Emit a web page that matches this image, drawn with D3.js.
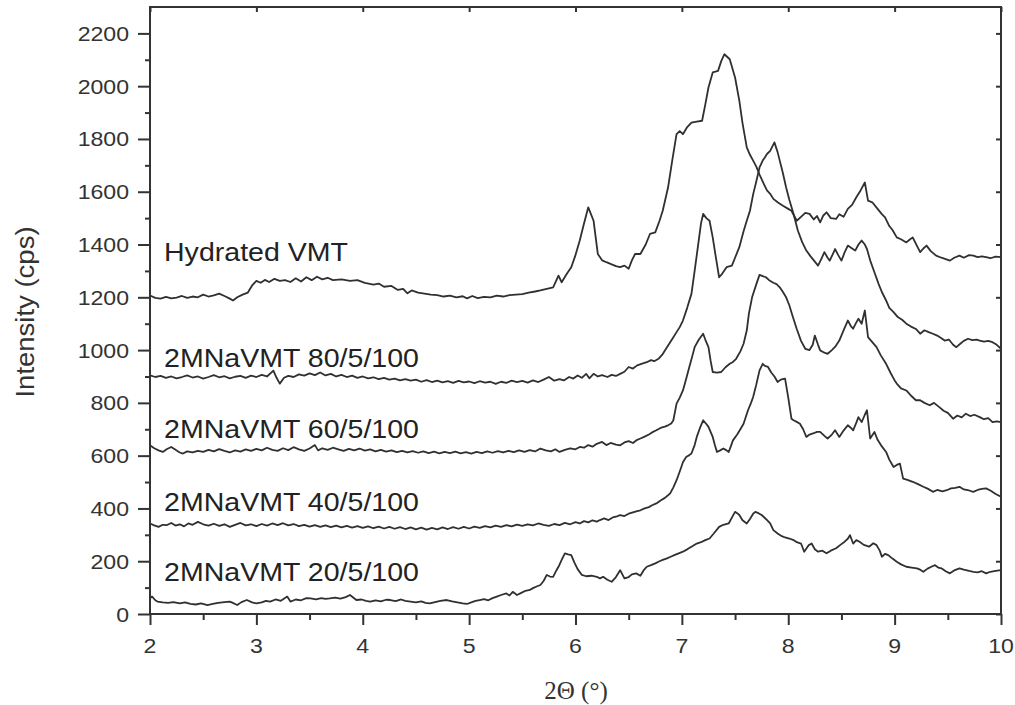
<!DOCTYPE html>
<html><head><meta charset="utf-8">
<script src="https://cdn.jsdelivr.net/npm/d3@7"></script>
<style>body{margin:0;background:#fff;}svg{display:block;}</style>
</head><body>
<svg id="chart" width="1015" height="705"></svg>
<script>
// ---------------- DATA ----------------
const seriesLabels = ["Hydrated VMT", "2MNaVMT 80/5/100", "2MNaVMT 60/5/100", "2MNaVMT 40/5/100", "2MNaVMT 20/5/100"];
const xTickValues = [2, 3, 4, 5, 6, 7, 8, 9, 10];
const yTickValues = [0, 200, 400, 600, 800, 1000, 1200, 1400, 1600, 1800, 2000, 2200];
const xAxisTitle = "2\u0398 (\u00B0)";
const yAxisTitle = "Intensity (cps)";

const hydratedVMT = [
[2.00,1207],[2.05,1198],[2.10,1195],[2.15,1202],[2.20,1196],[2.25,1199],[2.30,1205],[2.35,1198],[2.40,1203],[2.45,1200],
[2.50,1210],[2.55,1203],[2.60,1207],[2.65,1214],[2.70,1205],[2.75,1195],[2.78,1188],[2.82,1200],[2.87,1210],[2.92,1218],
[2.96,1245],[3.00,1262],[3.04,1255],[3.08,1266],[3.12,1258],[3.17,1270],[3.22,1262],[3.27,1265],[3.32,1258],[3.37,1272],
[3.42,1260],[3.47,1276],[3.52,1265],[3.57,1278],[3.62,1268],[3.67,1274],[3.72,1265],[3.80,1268],[3.88,1262],[3.95,1265],
[4.02,1255],[4.10,1248],[4.15,1252],[4.20,1240],[4.27,1243],[4.33,1228],[4.38,1232],[4.42,1215],[4.46,1226],[4.52,1218],
[4.58,1214],[4.64,1210],[4.70,1208],[4.76,1203],[4.82,1206],[4.88,1200],[4.94,1204],[4.98,1196],[5.03,1205],[5.08,1197],
[5.14,1202],[5.20,1200],[5.26,1206],[5.32,1203],[5.38,1208],[5.44,1210],[5.50,1212],[5.56,1218],[5.62,1222],
[5.67,1226],[5.73,1232],[5.79,1238],[5.84,1282],[5.87,1257],[5.92,1290],[5.96,1314],[6.00,1360],[6.04,1415],[6.08,1480],
[6.12,1541],[6.17,1490],[6.21,1364],[6.25,1340],[6.29,1333],[6.34,1325],[6.38,1318],[6.42,1314],[6.46,1320],[6.50,1308],
[6.53,1340],[6.56,1364],[6.61,1364],[6.66,1400],[6.70,1440],[6.75,1446],[6.79,1490],[6.82,1528],[6.87,1616],[6.91,1720],
[6.95,1818],[6.98,1830],[7.01,1818],[7.05,1845],[7.09,1862],[7.14,1866],[7.19,1869],[7.22,1930],[7.25,1995],[7.29,2052],
[7.34,2058],[7.37,2095],[7.40,2121],[7.45,2102],[7.50,2033],[7.54,1945],[7.57,1860],[7.61,1768],[7.64,1740],[7.67,1718],
[7.70,1695],[7.73,1665],[7.77,1630],[7.80,1605],[7.83,1592],[7.86,1573],[7.90,1560],[7.95,1547],[8.00,1535],[8.03,1528],
[8.08,1490],[8.12,1505],[8.16,1520],[8.20,1516],[8.24,1495],[8.27,1508],[8.30,1484],[8.33,1510],[8.36,1522],[8.40,1500],
[8.45,1497],[8.48,1515],[8.52,1505],[8.56,1535],[8.60,1550],[8.64,1579],[8.68,1605],[8.72,1635],[8.75,1566],[8.79,1560],
[8.84,1535],[8.88,1515],[8.91,1503],[8.95,1470],[8.98,1455],[9.02,1427],[9.06,1420],[9.11,1408],[9.14,1418],[9.17,1427],
[9.21,1395],[9.24,1371],[9.27,1385],[9.30,1396],[9.34,1375],[9.39,1358],[9.44,1350],[9.48,1345],[9.52,1339],[9.56,1350],
[9.61,1358],[9.65,1350],[9.70,1360],[9.74,1358],[9.78,1352],[9.82,1355],[9.86,1352],[9.90,1348],[9.95,1354],[10.00,1352]
];

const naVMT80 = [
[2.00,904],[2.05,898],[2.10,902],[2.15,895],[2.20,900],[2.25,893],[2.30,898],[2.35,904],[2.40,896],[2.45,900],
[2.50,892],[2.55,898],[2.60,905],[2.65,897],[2.70,901],[2.75,893],[2.80,899],[2.85,902],[2.90,895],[2.95,903],
[3.00,898],[3.05,906],[3.10,900],[3.16,922],[3.19,895],[3.22,873],[3.26,895],[3.30,902],[3.35,898],[3.40,908],
[3.45,903],[3.50,912],[3.55,905],[3.60,915],[3.65,904],[3.70,910],[3.75,900],[3.80,906],[3.85,898],[3.90,903],
[3.95,895],[4.00,900],[4.05,893],[4.10,897],[4.15,890],[4.20,895],[4.25,888],[4.30,892],[4.35,885],[4.40,890],
[4.45,884],[4.50,888],[4.55,880],[4.60,886],[4.65,879],[4.70,884],[4.75,878],[4.80,882],[4.85,876],[4.90,883],
[4.95,878],[5.00,881],[5.05,875],[5.10,882],[5.15,877],[5.20,880],[5.25,872],[5.30,880],[5.35,876],[5.40,884],
[5.45,879],[5.50,883],[5.55,877],[5.60,885],[5.65,879],[5.70,888],[5.75,898],[5.80,884],[5.85,890],[5.89,885],
[5.94,898],[5.98,892],[6.02,904],[6.06,895],[6.10,910],[6.13,893],[6.17,910],[6.21,900],[6.25,905],[6.30,898],
[6.34,906],[6.38,902],[6.42,910],[6.46,918],[6.50,936],[6.54,930],[6.58,942],[6.62,948],[6.67,954],[6.71,962],
[6.74,958],[6.78,967],[6.82,985],[6.86,1011],[6.89,1030],[6.92,1049],[6.95,1068],[6.98,1087],[7.01,1112],[7.05,1160],
[7.09,1213],[7.12,1300],[7.15,1390],[7.18,1480],[7.20,1516],[7.23,1500],[7.26,1490],[7.29,1427],[7.32,1350],[7.35,1276],
[7.38,1290],[7.42,1314],[7.47,1320],[7.50,1350],[7.54,1390],[7.58,1450],[7.61,1490],[7.64,1528],[7.67,1590],[7.70,1640],
[7.73,1692],[7.76,1718],[7.78,1730],[7.80,1743],[7.83,1755],[7.87,1787],[7.90,1750],[7.92,1718],[7.95,1670],[7.98,1616],
[8.01,1570],[8.05,1516],[8.09,1453],[8.13,1410],[8.17,1377],[8.21,1355],[8.25,1335],[8.28,1320],[8.31,1345],[8.34,1371],
[8.37,1350],[8.39,1339],[8.42,1365],[8.44,1383],[8.47,1360],[8.50,1339],[8.53,1370],[8.56,1396],[8.60,1385],[8.63,1377],
[8.66,1400],[8.69,1415],[8.72,1400],[8.74,1383],[8.77,1340],[8.81,1295],[8.85,1250],[8.88,1220],[8.92,1188],[8.95,1160],
[8.99,1144],[9.03,1125],[9.07,1115],[9.11,1100],[9.15,1090],[9.20,1080],[9.24,1062],[9.28,1075],[9.32,1068],[9.36,1062],
[9.40,1055],[9.44,1045],[9.47,1036],[9.51,1040],[9.55,1020],[9.58,1011],[9.62,1025],[9.65,1035],[9.69,1043],[9.73,1038],
[9.77,1040],[9.80,1036],[9.84,1032],[9.88,1035],[9.92,1030],[9.96,1020],[10.00,1005]
];

const naVMT60 = [
[2.00,639],[2.04,628],[2.08,620],[2.12,614],[2.16,625],[2.20,633],[2.24,622],[2.28,612],[2.31,608],[2.35,616],
[2.40,612],[2.45,618],[2.50,614],[2.55,622],[2.60,616],[2.65,625],[2.70,618],[2.75,612],[2.80,620],[2.85,615],
[2.90,624],[2.95,618],[3.00,626],[3.05,620],[3.10,630],[3.15,622],[3.20,618],[3.25,628],[3.30,621],[3.35,632],
[3.40,624],[3.45,618],[3.50,627],[3.55,640],[3.58,620],[3.62,628],[3.67,622],[3.72,630],[3.77,624],[3.82,618],
[3.87,626],[3.92,620],[3.97,627],[4.02,619],[4.07,624],[4.12,616],[4.17,622],[4.22,615],[4.27,620],[4.32,613],
[4.37,618],[4.42,612],[4.47,617],[4.52,611],[4.57,616],[4.62,610],[4.67,615],[4.72,609],[4.77,614],[4.82,610],
[4.87,615],[4.92,609],[4.97,613],[5.02,608],[5.07,614],[5.12,610],[5.17,616],[5.22,611],[5.27,617],[5.32,612],
[5.37,618],[5.42,613],[5.47,620],[5.52,614],[5.57,621],[5.62,616],[5.67,627],[5.72,620],[5.77,616],[5.81,624],
[5.85,614],[5.90,622],[5.95,628],[6.00,624],[6.04,633],[6.08,630],[6.12,640],[6.16,634],[6.20,645],[6.25,652],
[6.29,640],[6.33,648],[6.38,642],[6.42,639],[6.46,650],[6.50,655],[6.54,648],[6.58,660],[6.61,665],[6.65,672],
[6.69,680],[6.72,688],[6.76,696],[6.80,705],[6.84,710],[6.87,715],[6.90,722],[6.92,734],[6.95,797],[6.98,820],
[7.01,847],[7.04,890],[7.07,936],[7.10,980],[7.12,1011],[7.16,1040],[7.20,1062],[7.22,1040],[7.25,1011],[7.27,960],
[7.29,917],[7.33,915],[7.37,917],[7.41,935],[7.45,948],[7.48,955],[7.51,967],[7.55,995],[7.58,1024],[7.61,1074],
[7.63,1138],[7.66,1200],[7.70,1250],[7.73,1285],[7.76,1280],[7.79,1276],[7.82,1265],[7.86,1255],[7.89,1250],[7.92,1238],
[7.95,1220],[7.98,1200],[8.01,1170],[8.04,1130],[8.08,1080],[8.12,1035],[8.16,1005],[8.20,1000],[8.23,1020],[8.25,1055],
[8.28,1020],[8.30,999],[8.34,990],[8.37,986],[8.41,1000],[8.44,1012],[8.48,1036],[8.52,1075],[8.56,1112],[8.59,1090],
[8.61,1081],[8.64,1105],[8.66,1119],[8.69,1100],[8.72,1150],[8.75,1049],[8.79,1030],[8.83,1011],[8.87,980],[8.92,948],
[8.96,915],[9.00,885],[9.02,873],[9.06,855],[9.11,847],[9.16,825],[9.20,810],[9.24,810],[9.28,800],[9.33,791],
[9.37,800],[9.42,784],[9.46,770],[9.50,762],[9.55,740],[9.59,752],[9.63,745],[9.67,759],[9.71,750],[9.75,755],
[9.80,746],[9.84,738],[9.88,742],[9.92,727],[9.96,730],[10.00,727]
];

const naVMT40 = [
[2.00,343],[2.04,336],[2.08,330],[2.12,338],[2.16,337],[2.20,345],[2.24,335],[2.28,340],[2.32,332],[2.36,343],
[2.40,338],[2.45,349],[2.50,340],[2.55,335],[2.60,342],[2.65,334],[2.70,340],[2.75,330],[2.80,338],[2.85,345],
[2.90,336],[2.95,340],[3.00,333],[3.05,341],[3.10,335],[3.15,343],[3.20,337],[3.25,344],[3.30,336],[3.35,341],
[3.40,333],[3.45,338],[3.50,331],[3.55,337],[3.60,330],[3.65,336],[3.70,329],[3.75,335],[3.80,328],[3.85,334],
[3.90,327],[3.95,333],[4.00,326],[4.05,332],[4.10,325],[4.15,331],[4.20,324],[4.25,330],[4.30,323],[4.35,329],
[4.40,322],[4.45,328],[4.50,321],[4.55,327],[4.60,320],[4.65,326],[4.70,321],[4.75,328],[4.80,322],[4.85,329],
[4.90,323],[4.95,330],[5.00,324],[5.05,331],[5.10,326],[5.15,333],[5.20,328],[5.25,335],[5.30,330],[5.35,337],
[5.40,332],[5.45,339],[5.50,334],[5.55,340],[5.60,336],[5.65,343],[5.70,338],[5.75,334],[5.80,341],[5.85,337],
[5.90,345],[5.95,340],[6.00,348],[6.04,343],[6.08,352],[6.12,347],[6.16,355],[6.20,350],[6.23,356],[6.27,362],
[6.31,356],[6.35,366],[6.39,370],[6.42,375],[6.46,371],[6.50,380],[6.54,385],[6.58,390],[6.61,393],[6.65,400],
[6.69,405],[6.72,412],[6.76,419],[6.80,430],[6.84,440],[6.87,450],[6.89,457],[6.92,480],[6.95,507],[6.98,540],
[7.01,575],[7.04,595],[7.07,602],[7.09,608],[7.12,640],[7.14,671],[7.17,705],[7.20,734],[7.23,720],[7.25,709],
[7.27,690],[7.29,671],[7.31,640],[7.33,614],[7.36,620],[7.39,627],[7.42,620],[7.44,614],[7.46,635],[7.48,658],
[7.52,680],[7.55,700],[7.58,721],[7.62,770],[7.65,800],[7.67,822],[7.70,870],[7.73,923],[7.76,948],[7.78,940],
[7.81,936],[7.84,915],[7.87,900],[7.90,879],[7.93,888],[7.97,892],[8.00,820],[8.03,740],[8.05,734],[8.08,728],
[8.11,721],[8.14,700],[8.17,671],[8.20,680],[8.24,685],[8.27,690],[8.30,690],[8.34,675],[8.37,665],[8.41,680],
[8.44,696],[8.48,671],[8.52,695],[8.56,715],[8.59,705],[8.61,696],[8.64,725],[8.66,746],[8.69,727],[8.72,755],
[8.74,772],[8.77,665],[8.81,690],[8.84,660],[8.88,635],[8.92,614],[8.95,585],[8.99,557],[9.02,565],[9.05,570],
[9.08,513],[9.12,508],[9.17,501],[9.22,492],[9.27,482],[9.31,475],[9.36,463],[9.40,470],[9.45,465],[9.49,469],
[9.53,476],[9.57,478],[9.61,482],[9.65,472],[9.70,468],[9.74,463],[9.78,470],[9.82,474],[9.86,476],[9.90,468],
[9.95,455],[10.00,444]
];

const naVMT20 = [
[2.00,60],[2.02,66],[2.05,52],[2.07,47],[2.12,44],[2.17,42],[2.22,45],[2.28,40],[2.33,44],[2.38,38],
[2.43,36],[2.48,40],[2.54,34],[2.59,38],[2.64,42],[2.70,45],[2.75,47],[2.79,40],[2.82,34],[2.86,45],
[2.91,53],[2.96,44],[3.00,40],[3.05,44],[3.09,50],[3.13,47],[3.18,55],[3.23,50],[3.29,66],[3.32,47],
[3.37,55],[3.42,52],[3.47,60],[3.51,59],[3.56,55],[3.61,60],[3.65,57],[3.69,59],[3.74,62],[3.79,58],
[3.84,64],[3.88,72],[3.94,53],[3.99,55],[4.03,50],[4.07,47],[4.12,52],[4.17,48],[4.22,54],[4.26,53],
[4.31,49],[4.36,55],[4.40,50],[4.45,47],[4.50,44],[4.55,48],[4.59,42],[4.63,40],[4.68,45],[4.73,50],
[4.79,53],[4.84,48],[4.89,44],[4.94,40],[4.98,38],[5.02,44],[5.06,50],[5.10,53],[5.14,56],[5.18,52],
[5.22,60],[5.26,66],[5.30,72],[5.35,78],[5.38,70],[5.41,84],[5.45,72],[5.49,80],[5.53,88],[5.57,91],
[5.60,98],[5.64,105],[5.67,110],[5.70,125],[5.73,148],[5.76,142],[5.79,141],[5.82,165],[5.84,179],[5.87,205],
[5.90,230],[5.93,226],[5.96,223],[5.99,195],[6.02,170],[6.06,148],[6.10,143],[6.15,145],[6.20,141],[6.23,135],
[6.26,141],[6.30,130],[6.34,122],[6.38,140],[6.42,166],[6.46,135],[6.50,140],[6.53,150],[6.57,154],[6.61,145],
[6.64,165],[6.67,179],[6.71,185],[6.75,192],[6.79,200],[6.82,205],[6.86,211],[6.90,218],[6.94,225],[6.97,230],
[7.01,236],[7.05,245],[7.09,255],[7.14,267],[7.18,272],[7.22,280],[7.26,286],[7.30,305],[7.35,330],[7.39,338],
[7.44,343],[7.47,365],[7.50,387],[7.52,382],[7.54,375],[7.57,355],[7.61,343],[7.64,360],[7.67,380],[7.69,387],
[7.72,382],[7.75,375],[7.79,360],[7.83,343],[7.86,318],[7.90,305],[7.94,295],[7.97,290],[8.01,286],[8.05,280],
[8.08,272],[8.12,267],[8.15,236],[8.19,260],[8.22,267],[8.25,245],[8.28,236],[8.32,240],[8.36,230],[8.40,240],
[8.45,249],[8.49,262],[8.53,274],[8.56,285],[8.58,299],[8.61,267],[8.64,280],[8.67,274],[8.71,262],[8.76,255],
[8.80,268],[8.83,261],[8.86,240],[8.88,217],[8.91,228],[8.94,223],[8.98,210],[9.02,198],[9.06,188],[9.11,179],
[9.16,176],[9.21,173],[9.24,168],[9.27,160],[9.31,172],[9.35,180],[9.38,185],[9.41,176],[9.44,173],[9.48,162],
[9.52,154],[9.56,165],[9.61,173],[9.65,168],[9.70,163],[9.74,160],[9.78,158],[9.82,162],[9.86,154],[9.90,160],
[9.95,163],[10.00,166]
];

const allSeries = [hydratedVMT, naVMT80, naVMT60, naVMT40, naVMT20];

// ---------------- LAYOUT ----------------
const W = 1015, H = 705;
const plot = {left: 150, right: 1001, top: 7, bottom: 614};
const labelPos = [[164, 261], [164, 367], [164, 438], [164, 511], [164, 581]];
const ink = "#333";
const sx = 1.1; // horizontal text stretch of the source

const svg = d3.select("#chart");
svg.append("rect").attr("width", W).attr("height", H).attr("fill", "#fff");

const x = d3.scaleLinear().domain([2, 10]).range([plot.left, plot.right]);
const y = d3.scaleLinear().domain([0, 2300]).range([plot.bottom, plot.top]);

// curves
const line = d3.line().x(d => x(d[0])).y(d => y(d[1]));
svg.append("g").selectAll("path").data(allSeries).join("path")
  .attr("d", line).attr("fill", "none").attr("stroke", "#303030")
  .attr("stroke-width", 1.8).attr("stroke-linejoin", "round");

// frame
svg.append("rect").attr("x", plot.left).attr("y", plot.top)
  .attr("width", plot.right - plot.left).attr("height", plot.bottom - plot.top)
  .attr("fill", "none").attr("stroke", ink).attr("stroke-width", 2);

// bottom axis
const xMinor = d3.range(2.5, 10, 1);
svg.append("g").attr("transform", `translate(0,${plot.bottom})`)
  .call(d3.axisBottom(x).tickValues(xTickValues).tickSize(11).tickFormat(""))
  .call(g => { g.select(".domain").remove(); g.selectAll("line").attr("stroke", ink).attr("stroke-width", 2); });
svg.append("g").attr("transform", `translate(0,${plot.bottom})`)
  .call(d3.axisBottom(x).tickValues(xMinor).tickSize(6).tickFormat(""))
  .call(g => { g.select(".domain").remove(); g.selectAll("line").attr("stroke", ink).attr("stroke-width", 2); });
// top axis (inner ticks)
svg.append("g").attr("transform", `translate(0,${plot.top})`)
  .call(d3.axisBottom(x).tickValues(xTickValues).tickSize(5).tickFormat(""))
  .call(g => { g.select(".domain").remove(); g.selectAll("line").attr("stroke", ink).attr("stroke-width", 2); });

// left axis
const yMinor = d3.range(100, 2300, 200);
svg.append("g").attr("transform", `translate(${plot.left},0)`)
  .call(d3.axisLeft(y).tickValues(yTickValues).tickSize(12).tickFormat(""))
  .call(g => { g.select(".domain").remove(); g.selectAll("line").attr("stroke", ink).attr("stroke-width", 2); });
svg.append("g").attr("transform", `translate(${plot.left},0)`)
  .call(d3.axisLeft(y).tickValues(yMinor).tickSize(5).tickFormat(""))
  .call(g => { g.select(".domain").remove(); g.selectAll("line").attr("stroke", ink).attr("stroke-width", 2); });
// right axis (inner ticks)
svg.append("g").attr("transform", `translate(${plot.right},0)`)
  .call(d3.axisRight(y).tickValues(yTickValues).tickSize(-5).tickFormat(""))
  .call(g => { g.select(".domain").remove(); g.selectAll("line").attr("stroke", ink).attr("stroke-width", 2); });

// tick labels
const font = "'Liberation Sans', Arial, sans-serif";
svg.append("g").selectAll("text").data(xTickValues).join("text")
  .attr("transform", d => `translate(${x(d)},653) scale(${sx},1)`)
  .attr("text-anchor", "middle").attr("font-family", font).attr("font-size", 21)
  .attr("fill", ink).text(d => d);
svg.append("g").selectAll("text").data(yTickValues).join("text")
  .attr("transform", d => `translate(129,${y(d) + 7.5}) scale(${sx},1)`)
  .attr("text-anchor", "end").attr("font-family", font).attr("font-size", 21)
  .attr("fill", ink).text(d => d);

// axis titles
svg.append("text")
  .attr("transform", `translate(34,312) rotate(-90) scale(${sx},1)`)
  .attr("text-anchor", "middle").attr("font-family", font).attr("font-size", 25)
  .attr("fill", ink).text(yAxisTitle);
svg.append("text")
  .attr("x", 576).attr("y", 699).attr("text-anchor", "middle")
  .attr("font-family", "'Liberation Serif', 'Times New Roman', serif").attr("font-size", 25)
  .attr("fill", ink).text(xAxisTitle);

// series labels
svg.append("g").selectAll("text").data(seriesLabels).join("text")
  .attr("transform", (d, i) => `translate(${labelPos[i][0]},${labelPos[i][1]}) scale(1.12,1)`)
  .attr("font-family", font).attr("font-size", 25.5).attr("fill", "#222").text(d => d);
</script>
</body></html>
